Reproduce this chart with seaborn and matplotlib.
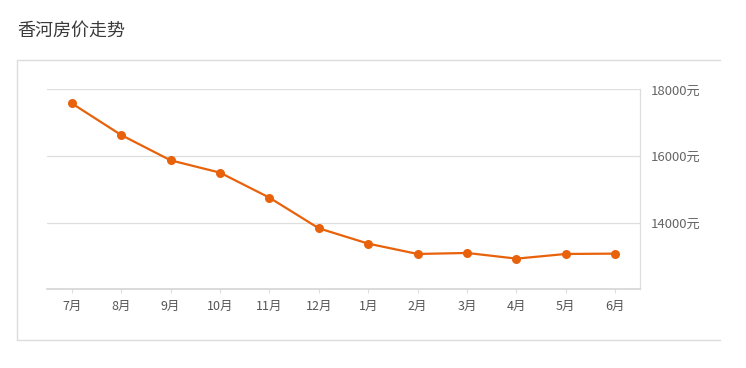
import matplotlib
matplotlib.use("Agg")
import matplotlib.pyplot as plt
from matplotlib.lines import Line2D
import seaborn as sns
import pandas as pd

# data
months = ["7月", "8月", "9月", "10月", "11月", "12月", "1月", "2月", "3月", "4月", "5月", "6月"]
prices = [17580, 16630, 15870, 15500, 14750, 13830, 13370, 13060, 13090, 12920, 13060, 13070]
y_ticks = [14000, 16000, 18000]
title = "香河房价走势"

sns.set_style("white")
plt.rcParams['font.family'] = ['Noto Sans CJK SC', 'DejaVu Sans']

df = pd.DataFrame({"month": months, "price": prices})

fig = plt.figure(figsize=(7.46, 3.68), dpi=100)
ax = fig.add_axes([47 / 746, 1 - 289.3 / 368, (640 - 47) / 746, (289.3 - 89.3) / 368])

line_color = "#e8620c"
sns.lineplot(data=df, x="month", y="price", sort=False, ax=ax, color=line_color,
             linewidth=1.6, marker="o", markersize=6.5, markeredgewidth=0,
             markerfacecolor=line_color)

ax.set_xlim(-0.5, len(months) - 0.5)
ax.set_ylim(12000, 18000)
ax.set_xlabel("")
ax.set_ylabel("")

# right side y labels
ax.yaxis.tick_right()
ax.set_yticks(y_ticks)
ax.set_yticklabels([f"{v}元" for v in y_ticks], fontsize=9.5, color="#666666")
ax.tick_params(axis="y", length=0, pad=8)
ax.tick_params(axis="x", length=3, width=0.8, color="#dddddd", labelsize=9,
               labelcolor="#555555", pad=5, bottom=True)

ax.grid(axis="y", color="#dedede", linewidth=0.9)
ax.grid(axis="x", visible=False)
for side in ["top", "left"]:
    ax.spines[side].set_visible(False)
ax.spines["right"].set_color("#dedede")
ax.spines["right"].set_linewidth(0.9)
ax.spines["bottom"].set_color("#d4d4d4")
ax.spines["bottom"].set_linewidth(1.2)
ax.set_axisbelow(True)

# outer box (open on the right)
box_color = "#dcdcdc"
x0, x1 = 17 / 746, 720 / 746
y0, y1 = 1 - 340 / 368, 1 - 59.5 / 368
for xs, ys in [([x0, x1], [y1, y1]), ([x0, x0], [y0, y1]), ([x0, x1], [y0, y0])]:
    fig.add_artist(Line2D(xs, ys, transform=fig.transFigure, color=box_color, linewidth=1))

fig.text(17 / 746, 1 - 31 / 368, title, fontsize=13, color="#3a3a3a", va="center", ha="left")

fig.savefig("out.png", dpi=100)
